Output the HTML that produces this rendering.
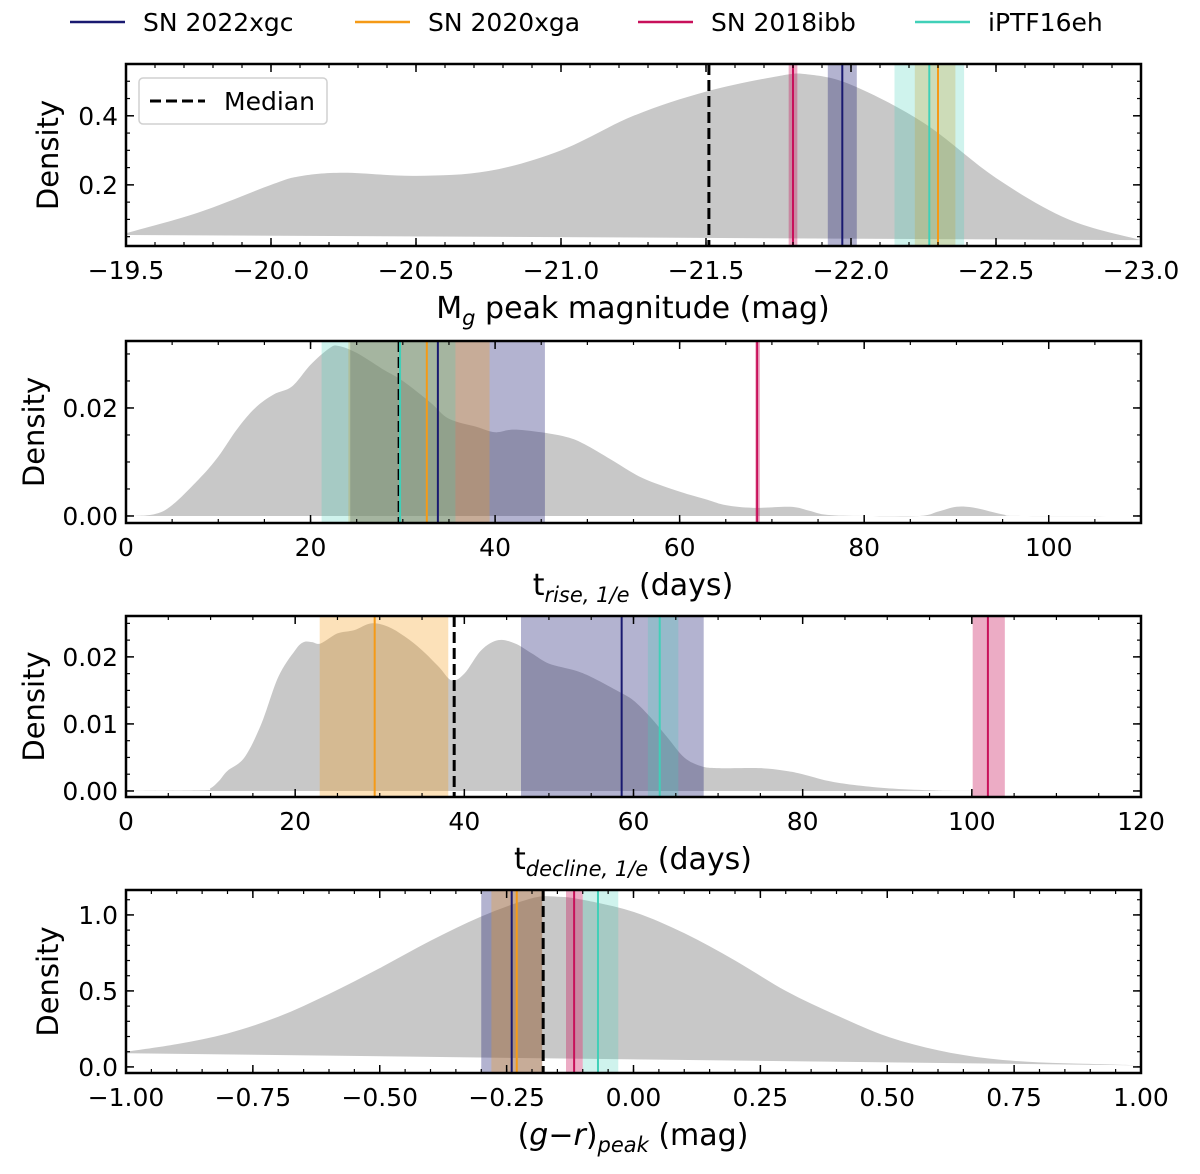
<!DOCTYPE html>
<html><head><meta charset="utf-8"><style>
body{margin:0;background:#fff;}
svg{display:block;font-family:"DejaVu Sans","Liberation Sans",sans-serif;}
</style></head><body>
<svg id="fig" width="1200" height="1174" viewBox="0 0 1200 1174"></svg>
<script>
// ---- data ----
const p1X=[-19.5,-19.75,-20.0,-20.1,-20.25,-20.5,-20.75,-21.0,-21.25,-21.5,-21.75,-21.85,-22.0,-22.25,-22.5,-22.75,-23.0];
const p1Y=[0.06,0.12,0.2,0.225,0.235,0.226,0.24,0.3,0.4,0.47,0.515,0.52,0.49,0.38,0.22,0.1,0.04];
const p1Low=[0.055,0.04];
const p2X=[0,3,5,8,10,12,14,16,18,20,22,23,25,28,30,33,35,38,40,42,45,48,50,53,56,60,63,65,68,72,74,76,80,86,88,90,92,95,97,110];
const p2Y=[0,0.0003,0.002,0.007,0.011,0.016,0.02,0.0225,0.024,0.028,0.031,0.0315,0.0302,0.027,0.025,0.021,0.018,0.0165,0.0155,0.016,0.0155,0.0145,0.013,0.01,0.007,0.0045,0.003,0.002,0.0015,0.0017,0.001,0.0002,0,0,0.0008,0.0017,0.0015,0.0003,0,0];
const p3X=[0,9,10,11,12,14,16,18,20,21,22,23,25,27,29,31,33,35,37,38.5,40,42,44,46,48,50,53,55,58,60,62,64,66,68,70,75,78,80,83,86,90,95,100,120];
const p3Y=[0,0.0001,0.0004,0.0015,0.003,0.005,0.01,0.017,0.021,0.0222,0.0222,0.022,0.0235,0.024,0.025,0.0245,0.023,0.021,0.0185,0.0165,0.0175,0.021,0.0225,0.022,0.0205,0.019,0.018,0.017,0.015,0.0135,0.011,0.008,0.005,0.0037,0.0034,0.0034,0.003,0.0025,0.0015,0.0009,0.0004,0.0001,0,0];
const p4X=[-1,-0.9,-0.8,-0.7,-0.6,-0.5,-0.4,-0.3,-0.2,-0.15,-0.1,0,0.1,0.2,0.3,0.4,0.5,0.6,0.7,0.8,0.9,1.0];
const p4Y=[0.1,0.15,0.22,0.33,0.48,0.65,0.83,0.99,1.11,1.12,1.1,1.02,0.88,0.7,0.5,0.34,0.2,0.11,0.055,0.03,0.02,0.01];
const p4Low=[0.09,0.01];
const objects=["SN 2022xgc","SN 2020xga","SN 2018ibb","iPTF16eh"];
const medians=[-21.51,29.6,38.8,-0.178];
// [value, lo, hi] per object per panel
const p1Obj=[[-21.97,-21.92,-22.02],[-22.30,-22.22,-22.36],[-21.80,-21.785,-21.815],[-22.27,-22.15,-22.39]];
const p2Obj=[[33.8,24.3,45.4],[32.6,24.1,39.4],[68.4,68.2,68.7],[29.7,21.2,35.7]];
const p3Obj=[[58.6,46.7,68.3],[29.4,22.9,38.1],[101.9,100.1,103.9],[63.1,61.7,65.3]];
const p4Obj=[[-0.24,-0.30,-0.18],[-0.23,-0.28,-0.18],[-0.117,-0.133,-0.10],[-0.07,-0.10,-0.03]];
const p1Ticks=[-19.5,-20.0,-20.5,-21.0,-21.5,-22.0,-22.5,-23.0];
const p1YTicks=[0.2,0.4];
const p2Ticks=[0,20,40,60,80,100];
const p2YTicks=[0,0.02];
const p3Ticks=[0,20,40,60,80,100,120];
const p3YTicks=[0,0.01,0.02];
const p4Ticks=[-1,-0.75,-0.5,-0.25,0,0.25,0.5,0.75,1];
const p4YTicks=[0,0.5,1.0];
// ---- drawing ----
const colors=["#191970","#f59a16","#c8105a","#40d0b8"];
const bandAlpha=[0.33,0.3,0.35,0.25];
const NS="http://www.w3.org/2000/svg";
const svg=document.getElementById('fig');
function el(tag,attrs,parent){const e=document.createElementNS(NS,tag);for(const k in attrs)e.setAttribute(k,attrs[k]);(parent||svg).appendChild(e);return e;}
function fmt(v,d){const s=Math.abs(v).toFixed(d);return (v<0?"\u2212":"")+s;}
function smooth(pts){let d="M"+pts[0][0]+","+pts[0][1];for(let i=0;i<pts.length-1;i++){const p0=pts[Math.max(0,i-1)],p1=pts[i],p2=pts[i+1],p3=pts[Math.min(pts.length-1,i+2)];const c1=[p1[0]+(p2[0]-p0[0])/6,p1[1]+(p2[1]-p0[1])/6],c2=[p2[0]-(p3[0]-p1[0])/6,p2[1]-(p3[1]-p1[1])/6];d+=" C"+c1[0]+","+c1[1]+" "+c2[0]+","+c2[1]+" "+p2[0]+","+p2[1];}return d;}
function panel(o){
  const g=el('g',{});
  
  
  const L=126,R=1141,T=o.top,B=o.bottom;
  const sx=v=>L+(v-o.xmin)/(o.xmax-o.xmin)*(R-L);
  const sy=v=>B-(v-o.ymin)/(o.ymax-o.ymin)*(B-T);
  const top=o.X.map((x,i)=>[sx(x),sy(o.Y[i])]);
  let d=smooth(top);
  const x0=o.X[0],x1=o.X[o.X.length-1];
  d+=" L"+sx(x1)+","+sy(o.low[1])+" L"+sx(x0)+","+sy(o.low[0])+" Z";
  const f=el('path',{d:d,fill:"#c8c8c8"},g);
  
  
  o.obj.forEach((b,i)=>{
    const a=sx(b[1]),c=sx(b[2]);
    const r=el('rect',{x:Math.min(a,c),y:T,width:Math.abs(c-a),height:B-T,fill:colors[i],'fill-opacity':bandAlpha[i]},g);
    
    
  });
  const m=el('line',{x1:sx(o.median),x2:sx(o.median),y1:T,y2:B,stroke:"#000","stroke-width":3,"stroke-dasharray":"11,5"},g);
  
  
  o.obj.forEach((b,i)=>{
    const l=el('line',{x1:sx(b[0]),x2:sx(b[0]),y1:T,y2:B,stroke:colors[i],"stroke-width":2},g);
    
    
  });
  const fr=el('rect',{x:L,y:T,width:R-L,height:B-T,fill:"none",stroke:"#000","stroke-width":2.5},g);
  
  
  const lo=Math.min(o.xmin,o.xmax),hi=Math.max(o.xmin,o.xmax);
  for(let v=lo;v<=hi+1e-9;v+=o.xminor){const x=sx(v);el('line',{x1:x,x2:x,y1:B,y2:B-4,stroke:"#000","stroke-width":1.2},g);el('line',{x1:x,x2:x,y1:T,y2:T+4,stroke:"#000","stroke-width":1.2},g);}
  o.xt.forEach(v=>{const x=sx(v);el('line',{x1:x,x2:x,y1:B,y2:B-8,stroke:"#000","stroke-width":1.5},g);el('line',{x1:x,x2:x,y1:T,y2:T+8,stroke:"#000","stroke-width":1.5},g);
    const t=el('text',{x:x,y:B+33,"text-anchor":"middle","font-size":25},g);t.textContent=fmt(v,o.xd);
    
    });
  for(let v=o.yminorStart;v<=o.ymax+1e-9;v+=o.yminor){if(v<o.ymin)continue;const y=sy(v);el('line',{x1:L,x2:L+4,y1:y,y2:y,stroke:"#000","stroke-width":1.2},g);el('line',{x1:R,x2:R-4,y1:y,y2:y,stroke:"#000","stroke-width":1.2},g);}
  o.yt.forEach(v=>{const y=sy(v);el('line',{x1:L,x2:L+8,y1:y,y2:y,stroke:"#000","stroke-width":1.5},g);el('line',{x1:R,x2:R-8,y1:y,y2:y,stroke:"#000","stroke-width":1.5},g);
    const t=el('text',{x:L-8,y:y+9,"text-anchor":"end","font-size":25},g);t.textContent=fmt(v,o.yd);
    
    });
  const yl=el('text',{x:0,y:0,transform:"translate("+o.ylx+","+((T+B)/2)+") rotate(-90)","text-anchor":"middle","font-size":29},g);yl.textContent="Density";
  
  
  const xl=el('text',{x:633,y:B+72,"text-anchor":"middle","font-size":30},g);xl.innerHTML=o.xlabel;
  
  
  return g;
}
panel({name:'panel-peak-magnitude',top:64,bottom:246,xmin:-19.5,xmax:-23.0,ymin:0.023,ymax:0.55,X:p1X,Y:p1Y,low:p1Low,obj:p1Obj,median:medians[0],xt:p1Ticks,xd:1,xminor:0.1,yt:p1YTicks,yd:1,yminor:0.05,yminorStart:0.05,ylx:58,xlabel:'M<tspan font-size="21" font-style="italic" dy="7">g</tspan><tspan dy="-7"> peak magnitude (mag)</tspan>'});
panel({name:'panel-rise-time',top:341,bottom:523,xmin:0,xmax:110,ymin:-0.0013,ymax:0.0324,X:p2X,Y:p2Y,low:[0,0],obj:p2Obj,median:medians[1],xt:p2Ticks,xd:0,xminor:5,yt:p2YTicks,yd:2,yminor:0.005,yminorStart:0,ylx:44,xlabel:'t<tspan font-size="21" font-style="italic" dy="7">rise, 1/e</tspan><tspan dy="-7"> (days)</tspan>'});
panel({name:'panel-decline-time',top:616,bottom:797,xmin:0,xmax:120,ymin:-0.0009,ymax:0.0261,X:p3X,Y:p3Y,low:[0,0],obj:p3Obj,median:medians[2],xt:p3Ticks,xd:0,xminor:5,yt:p3YTicks,yd:2,yminor:0.0025,yminorStart:0,ylx:44,xlabel:'t<tspan font-size="21" font-style="italic" dy="7">decline, 1/e</tspan><tspan dy="-7"> (days)</tspan>'});
panel({name:'panel-color',top:890,bottom:1073,xmin:-1,xmax:1,ymin:-0.04,ymax:1.164,X:p4X,Y:p4Y,low:p4Low,obj:p4Obj,median:medians[3],xt:p4Ticks,xd:2,xminor:0.05,yt:p4YTicks,yd:1,yminor:0.1,yminorStart:0,ylx:58,xlabel:'(<tspan font-style="italic">g</tspan>\u2212<tspan font-style="italic">r</tspan>)<tspan font-size="21" font-style="italic" dy="7">peak</tspan><tspan dy="-7"> (mag)</tspan>'});
const lg=el('g',{});


el('rect',{x:139,y:78,width:188,height:46,rx:4,fill:"#fff","fill-opacity":0.85,stroke:"#d0d0d0","stroke-width":1.5},lg);
el('line',{x1:150,x2:205,y1:101,y2:101,stroke:"#000","stroke-width":3,"stroke-dasharray":"11,5"},lg);
const mt=el('text',{x:224,y:110,"font-size":25},lg);mt.textContent="Median";
const tl=el('g',{});


const lx=[70,355,638,915];
objects.forEach((n,i)=>{
  const ent=el('g',{},tl);
  
  
  el('line',{x1:lx[i],x2:lx[i]+55,y1:22,y2:22,stroke:colors[i],"stroke-width":2.5},ent);
  const t=el('text',{x:lx[i]+73,y:31,"font-size":25},ent);t.textContent=n;
});
</script>
</body></html>
